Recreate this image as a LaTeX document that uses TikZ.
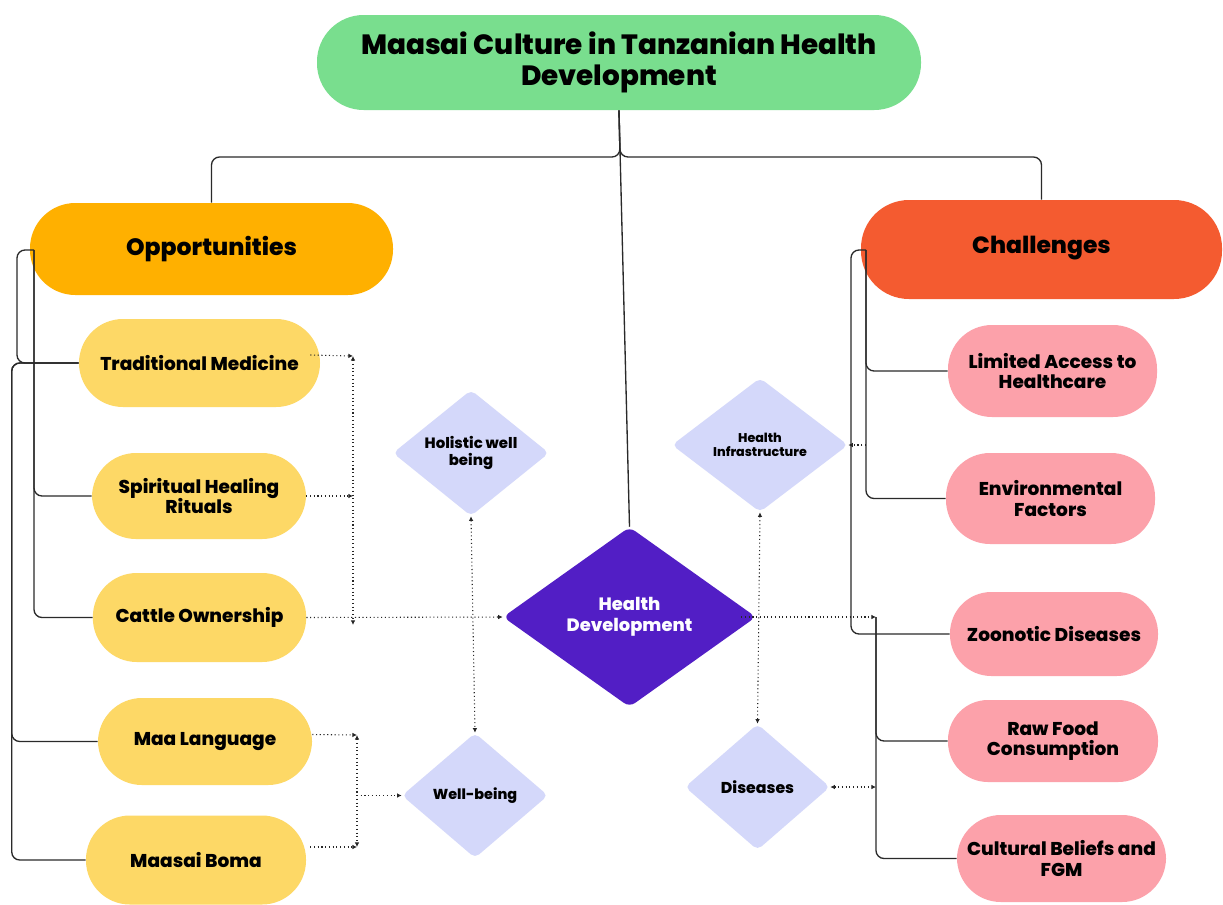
\documentclass[tikz,border=0pt]{standalone}
\usepackage{fontspec}
\setmainfont{Poppins}[BoldFont={Poppins ExtraBold}]
\usetikzlibrary{shapes.geometric,arrows.meta,calc}
\definecolor{cTitle}{HTML}{79DE8E}
\definecolor{cOpp}{HTML}{FFB000}
\definecolor{cChal}{HTML}{F45B30}
\definecolor{cYel}{HTML}{FDD866}
\definecolor{cPink}{HTML}{FCA1AA}
\definecolor{cLav}{HTML}{D4D8FA}
\definecolor{cPur}{HTML}{521EC5}
\definecolor{cLine}{HTML}{2A2A2A}
\begin{document}
\begin{tikzpicture}[x=0.75pt,y=-0.75pt,
  pill/.style={rectangle,rounded corners=33pt,inner sep=0pt,align=center,font=\bfseries\fontsize{13.9}{15.3}\selectfont,text=black},
  ybox/.style={pill,fill=cYel},
  pbox/.style={pill,fill=cPink},
  lav/.style={diamond,fill=cLav,inner sep=0pt,rounded corners=4pt,align=center,text=black},
  conn/.style={draw=cLine,line width=1pt,rounded corners=6pt},
  dots/.style={draw=black!85,dotted,line width=0.8pt,-{Latex[length=3.5pt,width=3.5pt]}},
  dotsb/.style={draw=black!85,dotted,line width=0.8pt,{Latex[length=3.5pt,width=3.5pt]}-{Latex[length=3.5pt,width=3.5pt]}}
]
\useasboundingbox (0,0) rectangle (1223,904);
\fill[white] (0,0) rectangle (1223,904);

% main nodes
\node[pill,fill=cTitle,minimum width=453pt,minimum height=71.25pt,rounded corners=35pt,font=\bfseries\fontsize{20.9}{23}\selectfont] (title) at (619,62.5) {\raisebox{-2pt}{Maasai Culture in Tanzanian Health}\\\raisebox{-2pt}{Development}};
\node[pill,fill=cOpp,minimum width=272.25pt,minimum height=69pt,rounded corners=34pt,font=\bfseries\fontsize{17.7}{18}\selectfont] (opp) at (211.5,249) {\raisebox{-1.5pt}{Opportunities}};
\node[pill,fill=cChal,minimum width=270.75pt,minimum height=74.25pt,rounded corners=36pt,font=\bfseries\fontsize{17.6}{18}\selectfont] (chal) at (1041.5,249.5) {\raisebox{6.5pt}{Challenges}};

% left items
\node[ybox,minimum width=180.75pt,minimum height=66pt] (tm) at (199.5,363) {Traditional Medicine};
\node[ybox,minimum width=160.5pt,minimum height=64.5pt] (shr) at (199,496) {Spiritual Healing\\Rituals};
\node[ybox,minimum width=160pt,minimum height=66.75pt] (co) at (199.5,617.5) {Cattle Ownership};
\node[ybox,minimum width=160.5pt,minimum height=65.25pt] (ml) at (205,741.5) {Maa Language};
\node[ybox,minimum width=165pt,minimum height=66.75pt] (mb) at (196,860) {Maasai Boma};

% right items
\node[pbox,minimum width=156.75pt,minimum height=69pt] (la) at (1052.5,371) {Limited Access to\\Healthcare};
\node[pbox,minimum width=156.75pt,minimum height=68.25pt] (ef) at (1050.5,498.5) {Environmental\\Factors};
\node[pbox,minimum width=156pt,minimum height=63pt,rounded corners=31pt] (zd) at (1054,634) {Zoonotic Diseases};
\node[pbox,minimum width=157.5pt,minimum height=61.5pt,rounded corners=30pt] (rf) at (1053,741) {Raw Food\\Consumption};
\node[pbox,minimum width=156.75pt,minimum height=65.25pt] (cb) at (1061.5,858.5) {Cultural Beliefs and\\FGM};

% diamonds
\node[lav,minimum width=117pt,minimum height=94.5pt,font=\bfseries\fontsize{11.2}{12.5}\selectfont] (hw) at (471,453) {Holistic well\\being};
\node[lav,minimum width=132pt,minimum height=100.5pt,font=\bfseries\fontsize{9.5}{11}\selectfont] (hi) at (760,445) {Health\\Infrastructure};
\node[lav,minimum width=109.5pt,minimum height=93.75pt,font=\bfseries\fontsize{10.8}{12}\selectfont] (wb) at (475,795.5) {Well-being};
\node[lav,minimum width=108.75pt,minimum height=94.5pt,font=\bfseries\fontsize{11.8}{12}\selectfont] (dis) at (757.5,787) {Diseases};
\node[diamond,fill=cPur,inner sep=0pt,rounded corners=5pt,minimum width=189.75pt,minimum height=135pt,align=center,text=white!95!cLav,font=\bfseries\fontsize{13.4}{16}\selectfont] (hd) at (629.5,617) {Health\\Development};

% helper coordinates
\coordinate (tj) at (620,157);
\coordinate (oa) at (34,250);
\coordinate (ca) at (866,250);
\coordinate (rj) at (876,617);
\coordinate (lb1) at (353,356);
\coordinate (lb2) at (353,625);
\coordinate (lb3) at (357,735);
\coordinate (lb4) at (357,847);
\coordinate (lb5) at (lb3 |- wb.west);

% tree connectors
\draw[conn] (title.south) -- (tj) -| (opp.north);
\draw[conn] (title.south) -- (tj) -| (chal.north);
\draw[conn,rounded corners=0pt] (title.south) -- (hd.north);

% left brackets
\draw[conn] (oa) -- ++(-17,0) |- (tm.west);
\draw[conn] (oa) |- (shr.west);
\draw[conn] (oa) |- (co.west);
\draw[conn] (tm.west) -- ++(-67,0) |- (ml.west);
\draw[conn] (tm.west) -- ++(-67,0) |- (mb.west);

% right brackets
\draw[conn] (ca) |- (la.west);
\draw[conn] (ca) |- (ef.west);
\draw[conn] (ca) -- ++(-15,0) |- (zd.west);
\draw[conn] (rj) |- (rf.west);
\draw[conn] (rj) |- (cb.west);

% dotted arrows left
\draw[dots] ($(tm.east)+(-10,-8)$) -- (lb1);
\draw[dotsb] (lb1) -- (lb2);
\draw[dots] (shr.east) -- (lb1 |- shr.east);
\draw[dots] (co.east) -- (hd.west);
\draw[dotsb] (hw.south) -- (wb.north);
\draw[dots] ($(ml.east)+(0,-7)$) -- (lb3);
\draw[dots] ($(mb.east)+(4,-13)$) -- (lb4);
\draw[dotsb] (lb3) -- (lb4);
\draw[dots] (lb5) -- (wb.west);

% dotted arrows right
\draw[dotsb] (hi.south) -- (dis.north);
\draw[dots] (ca |- hi.east) -- (hi.east);
\draw[dots] ($(hd.east)+(-15,0)$) -- (rj);
\draw[dotsb] (dis.east) -- (rj |- dis.east);
\end{tikzpicture}
\end{document}
